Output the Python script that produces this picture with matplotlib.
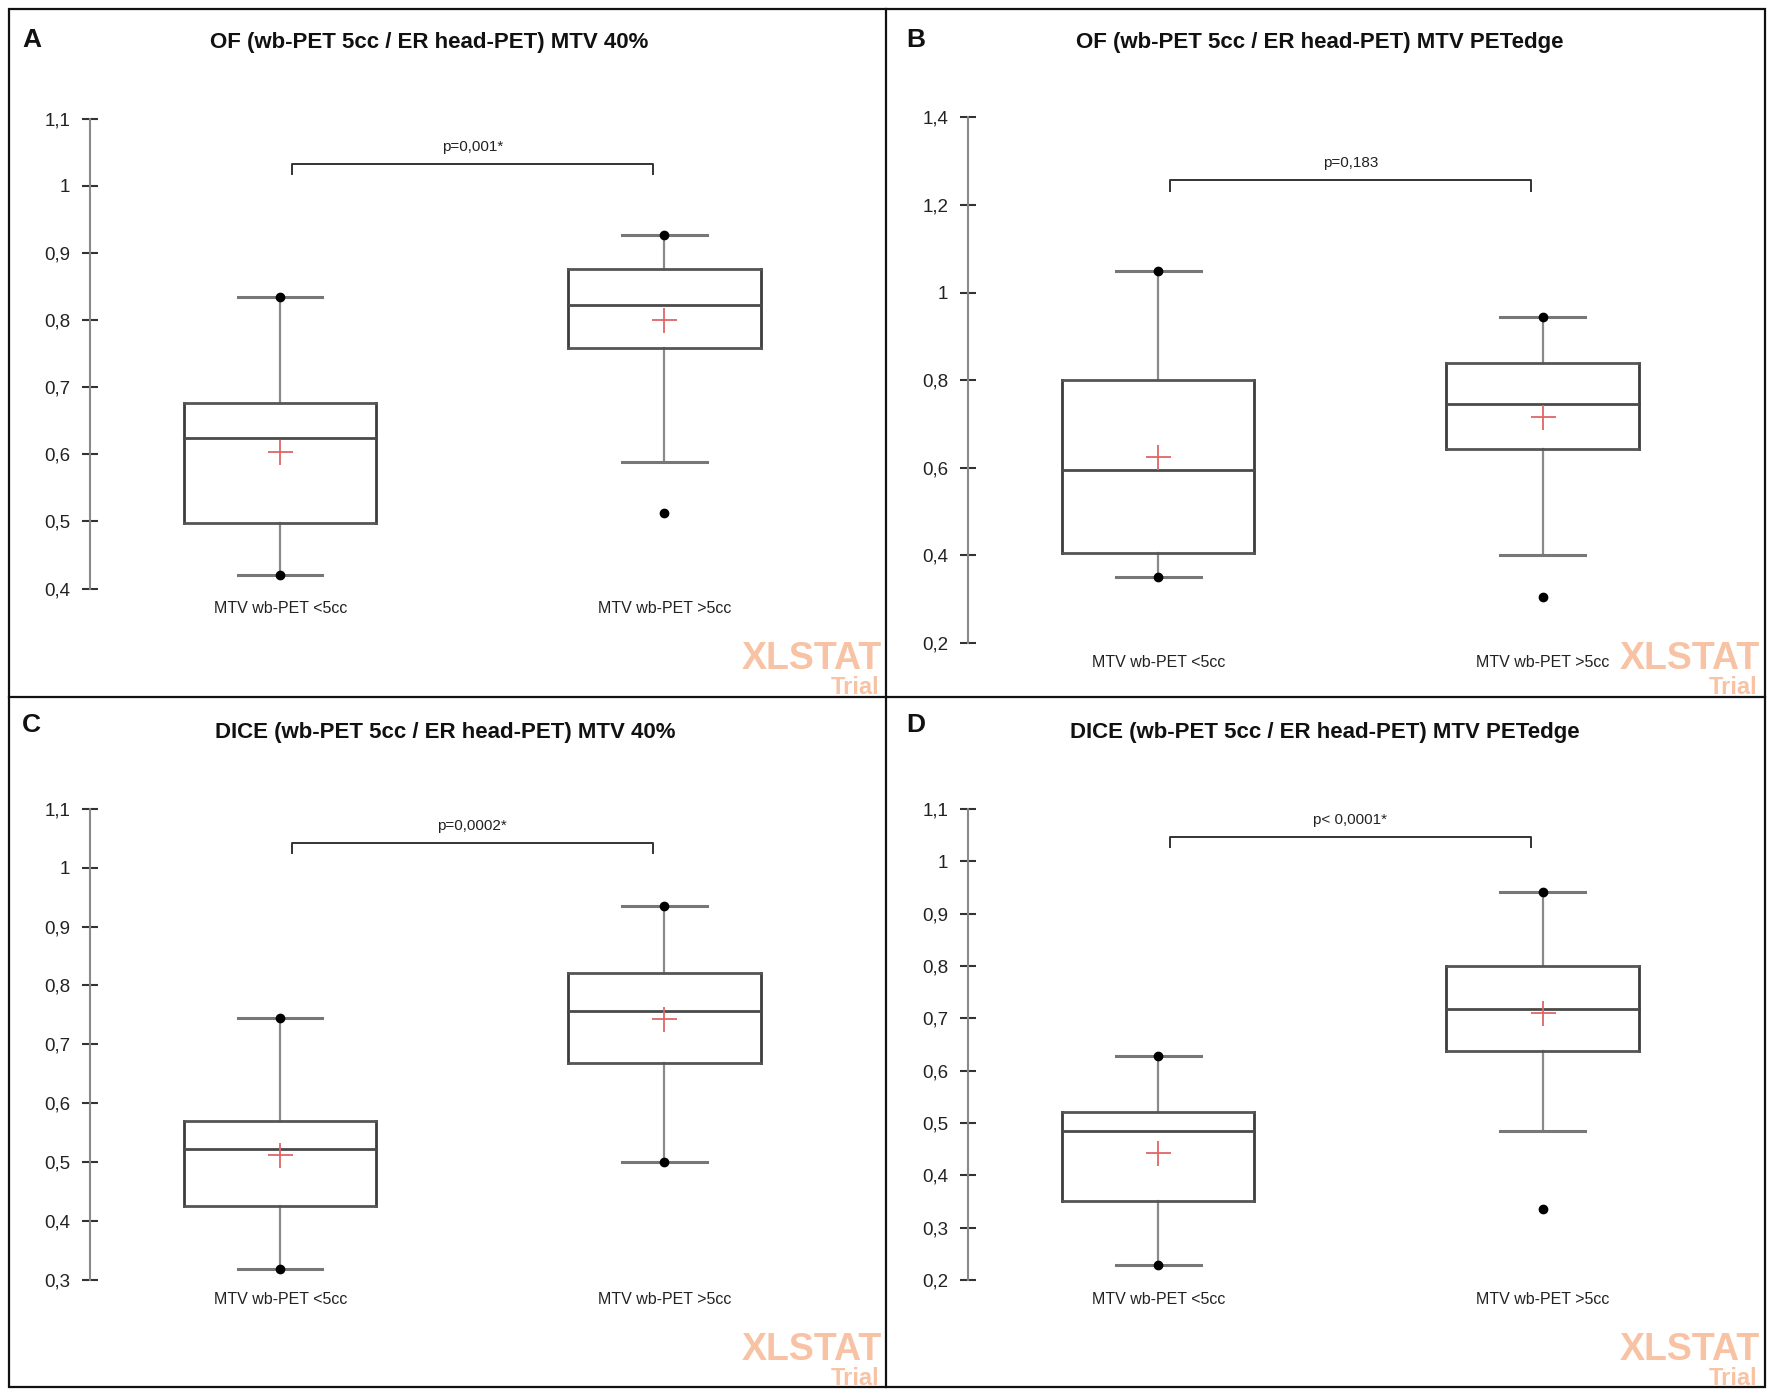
import matplotlib
matplotlib.use("Agg")
import matplotlib.pyplot as plt
from matplotlib.lines import Line2D
from matplotlib.patches import Rectangle

# ---------------- data ----------------
panel_letters = ["A", "B", "C", "D"]
titles = [
    "OF (wb-PET 5cc / ER head-PET) MTV 40%",
    "OF (wb-PET 5cc / ER head-PET) MTV PETedge",
    "DICE (wb-PET 5cc / ER head-PET) MTV 40%",
    "DICE (wb-PET 5cc / ER head-PET) MTV PETedge",
]
categories = ["MTV wb-PET <5cc", "MTV wb-PET >5cc"]

# per panel: [box1, box2]
whisker_low = [[0.420, 0.589], [0.350, 0.400], [0.318, 0.500], [0.228, 0.485]]
q1_vals     = [[0.497, 0.758], [0.405, 0.642], [0.425, 0.668], [0.350, 0.637]]
medians     = [[0.625, 0.822], [0.595, 0.745], [0.523, 0.757], [0.485, 0.718]]
means       = [[0.603, 0.800], [0.625, 0.715], [0.512, 0.743], [0.443, 0.710]]
q3_vals     = [[0.677, 0.876], [0.800, 0.838], [0.570, 0.822], [0.520, 0.800]]
whisker_high= [[0.835, 0.927], [1.050, 0.945], [0.745, 0.935], [0.627, 0.942]]
# minimum / maximum points (dots)
min_points  = [[0.420, 0.512], [0.350, 0.305], [0.318, 0.500], [0.228, 0.335]]
max_points  = [[0.835, 0.927], [1.050, 0.945], [0.745, 0.935], [0.627, 0.942]]

y_ticks = [
    [0.4, 0.5, 0.6, 0.7, 0.8, 0.9, 1.0, 1.1],
    [0.2, 0.4, 0.6, 0.8, 1.0, 1.2, 1.4],
    [0.3, 0.4, 0.5, 0.6, 0.7, 0.8, 0.9, 1.0, 1.1],
    [0.2, 0.3, 0.4, 0.5, 0.6, 0.7, 0.8, 0.9, 1.0, 1.1],
]
y_tick_labels = [
    ["0,4", "0,5", "0,6", "0,7", "0,8", "0,9", "1", "1,1"],
    ["0,2", "0,4", "0,6", "0,8", "1", "1,2", "1,4"],
    ["0,3", "0,4", "0,5", "0,6", "0,7", "0,8", "0,9", "1", "1,1"],
    ["0,2", "0,3", "0,4", "0,5", "0,6", "0,7", "0,8", "0,9", "1", "1,1"],
]
p_labels = ["p=0,001*", "p=0,183", "p=0,0002*", "p< 0,0001*"]
bracket_y = [1.033, 1.258, 1.042, 1.046]

# ---------------- layout ----------------
W, H = 1568.0, 1234.0
fig = plt.figure(figsize=(17.72, 13.94), dpi=100)
fig.patch.set_facecolor("white")
plt.rcParams["font.family"] = ["Liberation Sans", "DejaVu Sans"]

def fx(x):
    return x / W

def fy(y):
    return 1 - y / H

# axes rectangles in displayed-pixel coordinates: (axis x, bottom y, top y)
axes_geom = [(80, 521, 105), (857, 569, 104), (80, 1133, 716), (857, 1133, 716)]
title_pos = [(380, 38), (1168, 38), (394, 648), (1172, 648)]
letter_pos = [(28, 35), (810, 35), (28, 642), (810, 642)]
wm_pos = [(780, 592), (1557, 592), (780, 1204), (1557, 1204)]

box_w = 0.5
cap_w = 0.22
edge_dark = "#3c3c3c"
edge_grey = "#8a8a8a"
mean_col = "#e06666"

for i in range(4):
    axx, yb, yt = axes_geom[i]
    ax = fig.add_axes([fx(axx), fy(yb), fx(680), fy(yt) - fy(yb)])
    ax.set_xlim(0.506, 2.506)
    ax.set_ylim(y_ticks[i][0], y_ticks[i][-1])
    ax.patch.set_alpha(0)
    for s in ["top", "right", "bottom"]:
        ax.spines[s].set_visible(False)
    ax.spines["left"].set_color(edge_grey)
    ax.spines["left"].set_linewidth(1.5)
    ax.set_yticks(y_ticks[i])
    ax.set_yticklabels(y_tick_labels[i])
    ax.tick_params(axis="y", direction="inout", length=11, width=1.5,
                   color="#333333", labelsize=13.5, labelcolor="#222222", pad=9)
    ax.set_xticks([1, 2])
    ax.set_xticklabels(categories)
    ax.tick_params(axis="x", length=0, pad=9, labelsize=11.5, labelcolor="#222222")

    for j, xc in enumerate([1, 2]):
        lo, q1, med, q3, hi = (whisker_low[i][j], q1_vals[i][j], medians[i][j],
                               q3_vals[i][j], whisker_high[i][j])
        # whiskers
        ax.plot([xc, xc], [q3, hi], color=edge_grey, lw=1.6, clip_on=False, zorder=2)
        ax.plot([xc, xc], [lo, q1], color=edge_grey, lw=1.6, clip_on=False, zorder=2)
        ax.plot([xc - cap_w / 2, xc + cap_w / 2], [hi, hi], color="#777777", lw=2.2,
                clip_on=False, zorder=2)
        ax.plot([xc - cap_w / 2, xc + cap_w / 2], [lo, lo], color="#777777", lw=2.2,
                clip_on=False, zorder=2)
        # box
        x0, x1 = xc - box_w / 2, xc + box_w / 2
        ax.plot([x0, x0], [q1, q3], color=edge_dark, lw=2.0, clip_on=False, zorder=3)
        ax.plot([x1, x1], [q1, q3], color=edge_dark, lw=2.0, clip_on=False, zorder=3)
        ax.plot([x0, x1], [q3, q3], color="#555555", lw=2.0, clip_on=False, zorder=3,
                solid_capstyle="projecting")
        ax.plot([x0, x1], [q1, q1], color="#555555", lw=2.0, clip_on=False, zorder=3,
                solid_capstyle="projecting")
        ax.plot([x0, x1], [med, med], color="#4a4a4a", lw=2.0, clip_on=False, zorder=3)
        # mean
        ax.plot([xc], [means[i][j]], marker="+", markersize=18, markeredgewidth=1.3,
                color=mean_col, linestyle="none", clip_on=False, zorder=4)
        # min / max points
        ax.plot([xc, xc], [min_points[i][j], max_points[i][j]], marker="o",
                markersize=6, color="black", linestyle="none", clip_on=False, zorder=5)

    # significance bracket
    yr = y_ticks[i][-1] - y_ticks[i][0]
    drop = yr * 0.022
    by = bracket_y[i]
    bx0, bx1 = 1.03, 1.97
    ax.plot([bx0, bx0, bx1, bx1], [by - drop, by, by, by - drop], color="#333333",
            lw=1.4, clip_on=False)
    ax.annotate(p_labels[i], xy=(1.5, by), xytext=(0, 7), textcoords="offset points",
                ha="center", va="bottom", fontsize=11, color="#222222",
                annotation_clip=False)

    # title and letter
    tx, ty = title_pos[i]
    fig.text(fx(tx), fy(ty), titles[i], ha="center", va="center", fontsize=16,
             fontweight="bold", color="#111111")
    lx, ly = letter_pos[i]
    fig.text(fx(lx), fy(ly), panel_letters[i], ha="center", va="center", fontsize=19,
             fontweight="bold", color="#111111")
    # watermark
    wx, wy = wm_pos[i]
    fig.text(fx(wx), fy(wy), "XLSTAT", ha="right", va="baseline", fontsize=27,
             fontweight="bold", color="#f8c3a4")
    fig.text(fx(wx - 2), fy(wy + 22), "Trial", ha="right", va="baseline", fontsize=17,
             fontweight="bold", color="#f8c3a4")

# panel frame lines
frame_kw = dict(color="#111111", lw=1.6, transform=fig.transFigure, clip_on=False)
fig.add_artist(Rectangle((fx(8), fy(1228)), fx(1554), fy(8) - fy(1228), fill=False,
                         edgecolor="#111111", lw=1.6, transform=fig.transFigure))
fig.add_artist(Line2D([fx(784), fx(784)], [fy(1228), fy(8)], **frame_kw))
fig.add_artist(Line2D([fx(8), fx(1562)], [fy(617), fy(617)], **frame_kw))

fig.savefig("out.png", dpi=100, facecolor="white")
